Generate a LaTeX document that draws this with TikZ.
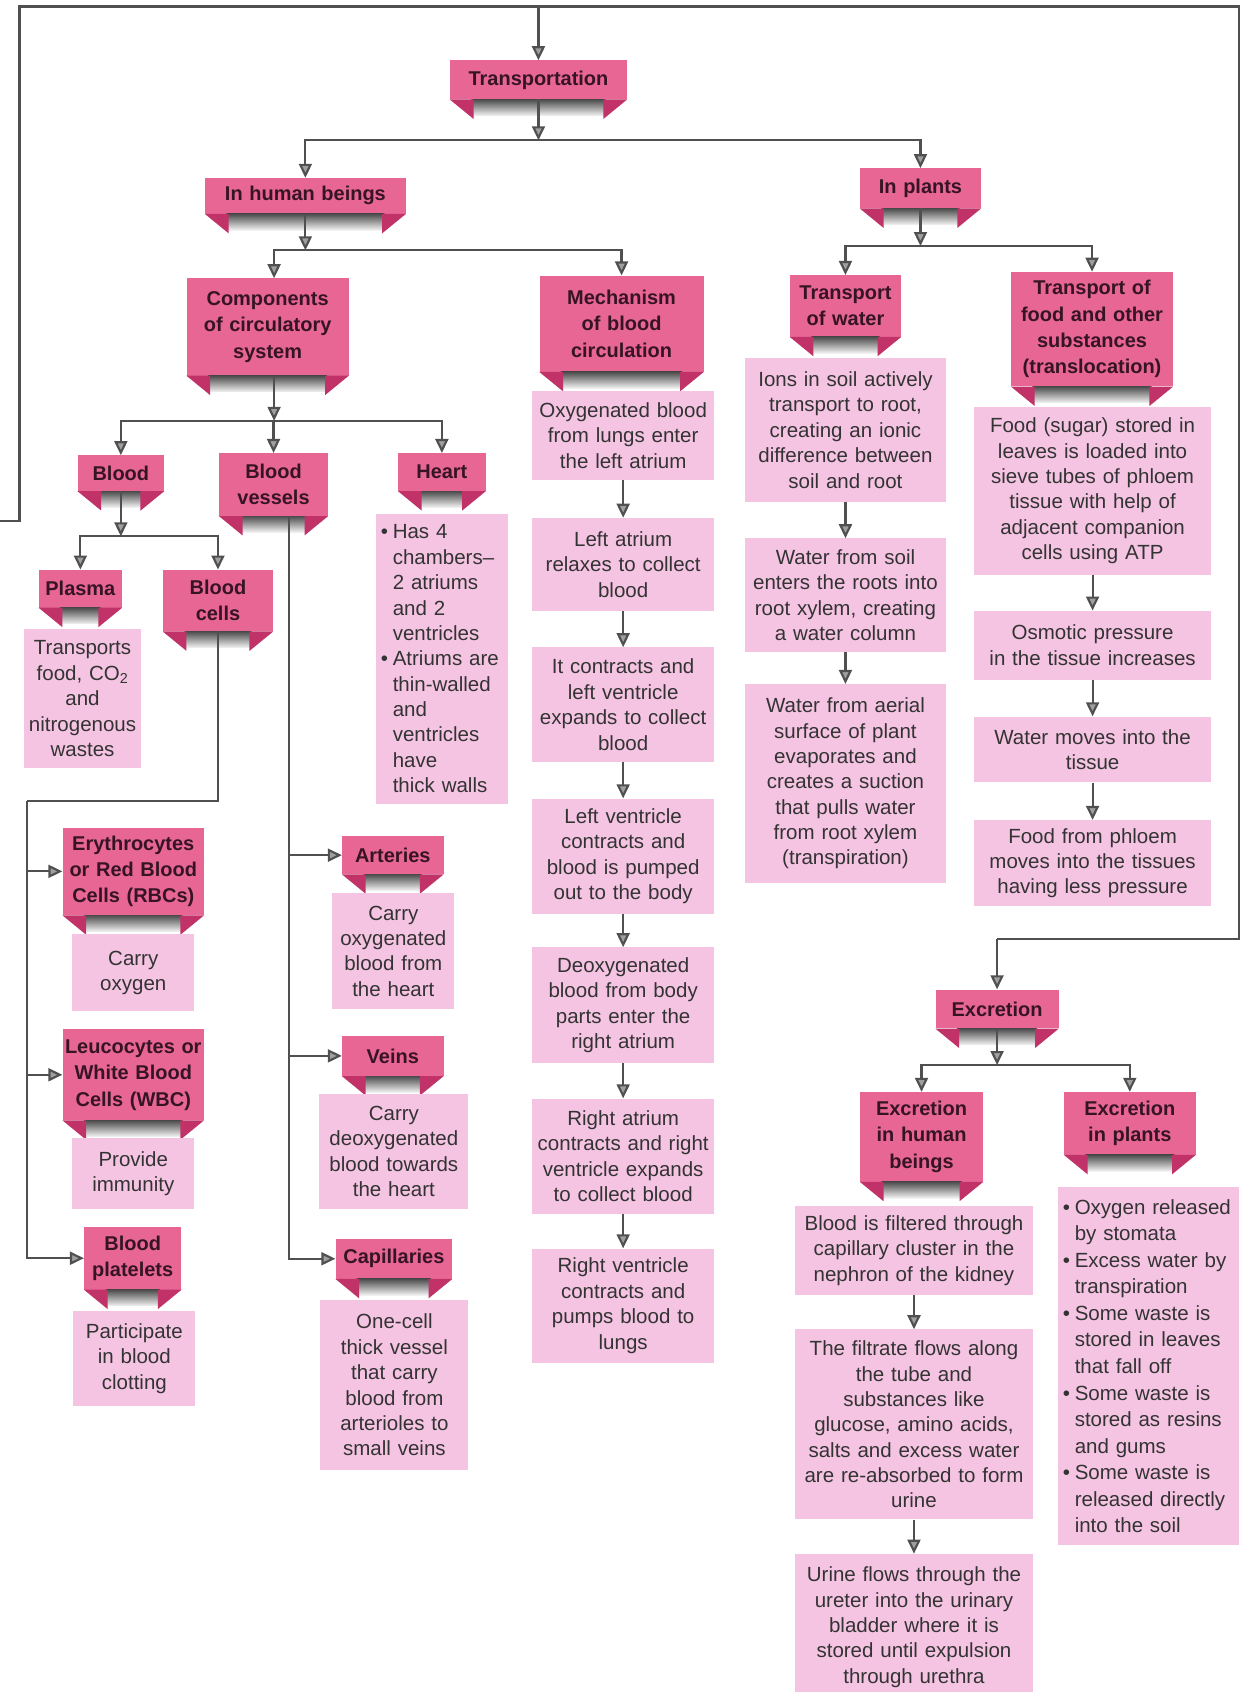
\documentclass[tikz,border=0pt]{standalone}
\usepackage{fontspec}
\setmainfont{Liberation Sans}
\usetikzlibrary{arrows.meta}

\definecolor{rosa}{RGB}{231,102,148}
\definecolor{rosaosc}{RGB}{192,50,104}
\definecolor{rosaclaro}{RGB}{245,196,226}
\definecolor{gris}{RGB}{80,80,80}
\definecolor{tinta}{RGB}{55,20,35}

\tikzset{
  cinta/.style={fill=rosa, inner xsep=0pt, inner ysep=0pt, align=center, text=tinta,
    font=\fontsize{18.5}{24.5}\selectfont\bfseries},
  caja/.style={fill=rosaclaro, inner xsep=0pt, inner ysep=0pt, align=center, text=black!80,
    font=\fontsize{19}{23.5}\selectfont},
  pliegue/.style={fill=rosaosc},
  sombra/.style={top color=black!70, bottom color=black!5},
  linea/.style={draw=gris, line width=2pt},
  flecha/.style={linea, -{Triangle[length=13pt,width=12pt,fill=gray!75]}},
}

% Cinta rosa con pliegues: nombre, posicion, ancho, alto, texto
\newcommand{\cinta}[5]{%
  \node[cinta, text width=#3, minimum height=#4] (#1) at (#2) {#5};
  \shade[sombra] ([xshift=20pt]#1.south west) rectangle ([xshift=-20pt,yshift=-15pt]#1.south east);
  \fill[pliegue] (#1.south west) -- ++(22,0) -- ++(0,18) -- cycle;
  \fill[pliegue] (#1.south east) -- ++(-22,0) -- ++(0,18) -- cycle;
}
\newcommand{\punto}{\hspace*{5pt}\makebox[11pt][l]{\textbullet}}
\newcommand{\sangria}{\hspace*{16pt}}

\begin{document}
\begin{tikzpicture}[x=1pt,y=-1pt]
    % Marco de la pagina.
    \useasboundingbox (0,0) rectangle (1160,1568);
    \fill[white] (0,0) rectangle (1160,1568);

    % Cintas de titulo.
    \cinta{tr}{499,74}{164pt}{36pt}{Transportation}
    \cinta{hum}{283,181.5}{186pt}{33pt}{In human beings}
    \cinta{pla}{853,174.5}{112pt}{37pt}{In plants}
    \cinta{comp}{248,303}{150pt}{90pt}{Components\\of circulatory\\system}
    \cinta{mech}{576,300}{152pt}{89pt}{Mechanism\\of blood\\circulation}
    \cinta{wat}{783.5,283.5}{103pt}{57pt}{Transport\\of water}
    \cinta{food}{1012,305}{150pt}{106pt}{Transport of\\food and other\\substances\\(translocation)}
    \cinta{blood}{112,438.5}{80pt}{33pt}{Blood}
    \cinta{ves}{253.5,449}{101pt}{58pt}{Blood\\vessels}
    \cinta{heart}{409.5,437.5}{81pt}{35pt}{Heart}
    \cinta{plasma}{74.5,545.5}{77pt}{35pt}{Plasma}
    \cinta{cells}{202,556.5}{102pt}{57pt}{Blood\\cells}
    \cinta{rbc}{123.5,807.5}{131pt}{81pt}{Erythrocytes\\or Red Blood\\Cells (RBCs)}
    \cinta{wbc}{123.5,996}{131pt}{84pt}{Leucocytes or\\White Blood\\Cells (WBC)}
    \cinta{plt}{123,1166}{90pt}{58pt}{Blood\\platelets}
    \cinta{art}{364,792.5}{94pt}{35pt}{Arteries}
    \cinta{vein}{364,978.5}{94pt}{37pt}{Veins}
    \cinta{cap}{365,1166.5}{108pt}{37pt}{Capillaries}
    \cinta{exc}{924,935}{114pt}{36pt}{Excretion}
    \cinta{exh}{854,1053.5}{114pt}{83pt}{Excretion\\in human\\beings}
    \cinta{exp}{1047,1041}{122pt}{58pt}{Excretion\\in plants}

    % Cajas de texto del lado humano.
    \node[caja, text width=109pt, minimum height=129pt] (plasmaT) at (76.5,647.5) {Transports\\food, CO\textsubscript{2}\\and\\nitrogenous\\wastes};
    \node[caja, text width=123pt, minimum height=269pt, align=left] (heartT) at (409.5,610.5)
      {\punto Has 4\\\sangria chambers--\\\sangria 2 atriums\\\sangria and 2\\\sangria ventricles\\
       \punto Atriums are\\\sangria thin-walled\\\sangria and\\\sangria ventricles\\\sangria have\\\sangria thick walls};
    \node[caja, text width=113pt, minimum height=71pt] (rbcT) at (123.5,901.5) {Carry\\oxygen};
    \node[caja, text width=113pt, minimum height=65pt] (wbcT) at (123.5,1087.5) {Provide\\immunity};
    \node[caja, text width=113pt, minimum height=88pt] (pltT) at (124.5,1259) {Participate\\in blood\\clotting};
    \node[caja, text width=113pt, minimum height=107pt] (artT) at (364.5,881.5) {Carry\\oxygenated\\blood from\\the heart};
    \node[caja, text width=138pt, minimum height=106pt] (veinT) at (365,1067) {Carry\\deoxygenated\\blood towards\\the heart};
    \node[caja, text width=137pt, minimum height=157pt] (capT) at (365.5,1283.5) {One-cell\\thick vessel\\that carry\\blood from\\arterioles to\\small veins};

    % Circulacion de la sangre.
    \node[caja, text width=169pt, minimum height=83pt] (m1) at (577.5,403.5) {Oxygenated blood\\from lungs enter\\the left atrium};
    \node[caja, text width=169pt, minimum height=86pt] (m2) at (577.5,523) {Left atrium\\relaxes to collect\\blood};
    \node[caja, text width=169pt, minimum height=106pt] (m3) at (577.5,653) {It contracts and\\left ventricle\\expands to collect\\blood};
    \node[caja, text width=169pt, minimum height=107pt] (m4) at (577.5,793.5) {Left ventricle\\contracts and\\blood is pumped\\out to the body};
    \node[caja, text width=169pt, minimum height=107pt] (m5) at (577.5,931.5) {Deoxygenated\\blood from body\\parts enter the\\right atrium};
    \node[caja, text width=169pt, minimum height=107pt] (m6) at (577.5,1071.5) {Right atrium\\contracts and right\\ventricle expands\\to collect blood};
    \node[caja, text width=169pt, minimum height=106pt] (m7) at (577.5,1210) {Right ventricle\\contracts and\\pumps blood to\\lungs};

    % Plantas: agua y alimento.
    \node[caja, text width=187pt, minimum height=133pt] (w1) at (783.5,398.5) {Ions in soil actively\\transport to root,\\creating an ionic\\difference between\\soil and root};
    \node[caja, text width=187pt, minimum height=105pt] (w2) at (783.5,551.5) {Water from soil\\enters the roots into\\root xylem, creating\\a water column};
    \node[caja, text width=187pt, minimum height=184pt] (w3) at (783.5,726) {Water from aerial\\surface of plant\\evaporates and\\creates a suction\\that pulls water\\from root xylem\\(transpiration)};
    \node[caja, text width=219pt, minimum height=156pt] (f1) at (1012.5,455) {Food (sugar) stored in\\leaves is loaded into\\sieve tubes of phloem\\tissue with help of\\adjacent companion\\cells using ATP};
    \node[caja, text width=219pt, minimum height=64pt] (f2) at (1012.5,598) {Osmotic pressure\\in the tissue increases};
    \node[caja, text width=219pt, minimum height=61pt] (f3) at (1012.5,694.5) {Water moves into the\\tissue};
    \node[caja, text width=219pt, minimum height=80pt] (f4) at (1012.5,800) {Food from phloem\\moves into the tissues\\having less pressure};

    % Excrecion.
    \node[caja, text width=220pt, minimum height=82pt] (eh1) at (847,1159) {Blood is filtered through\\capillary cluster in the\\nephron of the kidney};
    \node[caja, text width=220pt, minimum height=176pt] (eh2) at (847,1320) {The filtrate flows along\\the tube and\\substances like\\glucose, amino acids,\\salts and excess water\\are re-absorbed to form\\urine};
    \node[caja, text width=220pt, minimum height=136pt] (eh3) at (847,1508) {Urine flows through the\\ureter into the urinary\\bladder where it is\\stored until expulsion\\through urethra};
    \node[caja, text width=168pt, minimum height=332pt, align=left, font=\fontsize{19}{24.6}\selectfont] (ep) at (1064,1266)
      {\punto Oxygen released\\\sangria by stomata\\\punto Excess water by\\\sangria transpiration\\
       \punto Some waste is\\\sangria stored in leaves\\\sangria that fall off\\\punto Some waste is\\
       \sangria stored as resins\\\sangria and gums\\\punto Some waste is\\\sangria released directly\\\sangria into the soil};

    % Linea exterior que une todo.
    \coordinate (o1) at (0,483);
    \coordinate (o2) at (18,483);
    \coordinate (o3) at (18,6);
    \coordinate (o4) at (1148,6);
    \coordinate (o5) at (1148,870);
    \coordinate (o6) at (924,870);
    \coordinate (o7) at (499,6);
    \draw[linea] (o1) -- (o2) -- (o3) -- (o4) -- (o5) -- (o6);
    \draw[flecha] (o7) -- (tr);
    \draw[flecha] (o6) -- (exc);

    % Ramas principales.
    \coordinate (j1) at (499,130);
    \draw[flecha] (tr.south) -- (j1);
    \draw[flecha] (j1) -| (hum);
    \draw[flecha] (j1) -| (pla);
    \coordinate (j2) at (283,232);
    \draw[flecha] (hum.south) -- (j2);
    \draw[flecha] (j2) -| ([xshift=6pt]comp.north);
    \draw[flecha] (j2) -| (mech);
    \coordinate (j3) at (853,228);
    \draw[flecha] (pla.south) -- (j3);
    \draw[flecha] (j3) -| (wat);
    \draw[flecha] (j3) -| (food);
    \coordinate (j4) at (254,390);
    \draw[flecha] ([xshift=6pt]comp.south) -- (j4);
    \draw[flecha] (j4) -| (blood);
    \draw[flecha] (j4) -| (ves);
    \draw[flecha] (j4) -| (heart);
    \coordinate (j5) at (112,497);
    \draw[flecha] (blood.south) -- (j5);
    \draw[flecha] (j5) -| (plasma);
    \draw[flecha] (j5) -| (cells);
    \coordinate (j6) at (924,987);
    \draw[flecha] (exc.south) -- (j6);
    \draw[flecha] (j6) -| (exh);
    \draw[flecha] (j6) -| (exp);

    % Celulas de la sangre y vasos.
    \coordinate (c1) at (202,742);
    \coordinate (c2) at (25,742);
    \draw[linea] (cells.south) -- (c1) -- (c2);
    \draw[flecha] (c2) |- (rbc);
    \draw[flecha] (c2) |- (wbc);
    \draw[flecha] (c2) |- (plt);
    \draw[flecha] ([xshift=14pt]ves.south) |- (art);
    \draw[flecha] ([xshift=14pt]ves.south) |- (vein);
    \draw[flecha] ([xshift=14pt]ves.south) |- (cap);

    % Cadenas de pasos.
    \foreach \a/\b in {m1/m2, m2/m3, m3/m4, m4/m5, m5/m6, m6/m7, w1/w2, w2/w3, f1/f2, f2/f3, f3/f4, eh1/eh2, eh2/eh3}
        \draw[flecha] (\a) -- (\b);
\end{tikzpicture}
\end{document}
